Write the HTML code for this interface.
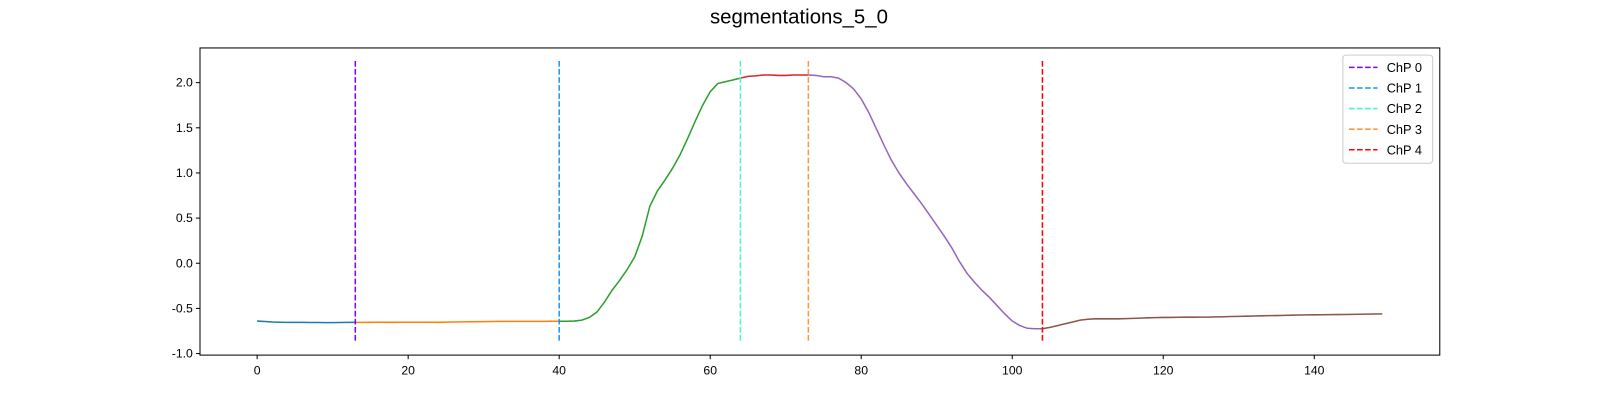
<!DOCTYPE html>
<html><head><meta charset="utf-8"><style>
html,body{margin:0;padding:0;background:#fff;overflow:hidden;width:1600px;height:400px;}
svg{display:block;}
svg text{font-family:"Liberation Sans","DejaVu Sans",sans-serif;}
</style></head><body>
<svg id="chart" width="1600" height="400" viewBox="0 0 1600 400" xmlns="http://www.w3.org/2000/svg">
<rect width="1600" height="400" fill="#fff"/>
<g transform="scale(1.0204)">
<text x="783" y="23" font-size="20" text-anchor="middle">segmentations_5_0</text>
<g id="plot"></g>
<rect x="196" y="47" width="1215" height="301" fill="none" stroke="#000" stroke-width="1"/>
</g>
</svg>
<script>
const xTicks=[0,20,40,60,80,100,120,140];
const yTicks=[-1.0,-0.5,0.0,0.5,1.0,1.5,2.0];
const changePoints=[13,40,64,73,104];
const cpLabels=["ChP 0","ChP 1","ChP 2","ChP 3","ChP 4"];
const cpColors=["#8000ff","#1996f3","#4df3ce","#ff9637","#ff0000"];
const segColors=["#1f77b4","#ff7f0e","#2ca02c","#d62728","#9467bd","#8c564b"];
const series=[-0.64,-0.645,-0.65,-0.653,-0.655,-0.655,-0.655,-0.656,-0.656,-0.657,-0.657,-0.656,-0.655,-0.655,
-0.655,-0.654,-0.653,-0.654,-0.654,-0.653,-0.653,-0.653,-0.653,-0.653,-0.654,-0.652,-0.65,-0.649,-0.648,-0.647,
-0.646,-0.645,-0.643,-0.643,-0.644,-0.643,-0.643,-0.644,-0.643,-0.642,-0.642,-0.642,-0.64,-0.63,-0.60,-0.54,
-0.43,-0.30,-0.19,-0.07,0.07,0.30,0.63,0.80,0.92,1.05,1.20,1.38,1.57,1.75,1.90,1.99,2.01,2.03,2.05,
2.07,2.075,2.085,2.085,2.08,2.08,2.085,2.085,2.085,2.08,2.065,2.065,2.05,2.0,1.93,1.82,1.67,1.49,1.31,1.14,
1.00,0.88,0.77,0.66,0.54,0.42,0.30,0.17,0.02,-0.11,-0.21,-0.30,-0.38,-0.47,-0.56,-0.64,-0.69,-0.72,-0.725,-0.725,
-0.71,-0.69,-0.67,-0.65,-0.63,-0.62,-0.615,-0.615,-0.615,-0.615,-0.613,-0.61,-0.607,-0.604,-0.602,-0.60,-0.60,
-0.598,-0.597,-0.597,-0.596,-0.596,-0.594,-0.592,-0.59,-0.588,-0.586,-0.584,-0.582,-0.58,-0.579,-0.577,-0.575,
-0.573,-0.572,-0.571,-0.57,-0.569,-0.568,-0.567,-0.566,-0.565,-0.563,-0.562,-0.56];
const NS="http://www.w3.org/2000/svg";
const sx=v=>252+v*7.4;
const sy=v=>258-v*88.5;
const g=document.getElementById('plot');
function mk(t,a){const e=document.createElementNS(NS,t);for(const k in a)e.setAttribute(k,a[k]);g.appendChild(e);return e;}
xTicks.forEach(t=>{
 const l=mk('line',{x1:sx(t),x2:sx(t),y1:348,y2:352,stroke:'#000'});
 
 
 const tx=mk('text',{x:sx(t),y:367,'font-size':12,'text-anchor':'middle'});tx.textContent=t;
 
 
});
yTicks.forEach(t=>{
 const l=mk('line',{x1:192,x2:196,y1:sy(t),y2:sy(t),stroke:'#000'});
 
 
 const tx=mk('text',{x:189,y:sy(t)+4,'font-size':12,'text-anchor':'end'});tx.textContent=t.toFixed(1);
 
 
});
const bounds=[0,...changePoints,series.length-1];
for(let s=0;s<bounds.length-1;s++){
 let pts=[];for(let i=bounds[s];i<=bounds[s+1];i++)pts.push(sx(i)+','+sy(series[i]));
 const p=mk('polyline',{points:pts.join(' '),fill:'none',stroke:segColors[s],'stroke-width':1.5});
 
 
}
changePoints.forEach((c,i)=>{
 const l=mk('line',{x1:sx(c),x2:sx(c),y1:sy(2.24),y2:sy(-0.87),stroke:cpColors[i],'stroke-width':1.5,'stroke-dasharray':'5.5,2.4'});
 
 
});
const lg=mk('rect',{x:1316,y:54,width:88,height:106,fill:'#fff',stroke:'#ccc',rx:3});


cpLabels.forEach((lab,i)=>{
 const y=66+i*20.2;
 const l=mk('line',{x1:1322,x2:1350,y1:y,y2:y,stroke:cpColors[i],'stroke-width':1.5,'stroke-dasharray':'5.5,2.4'});
 
 
 const t=mk('text',{x:1359,y:y+4.5,'font-size':12.5});t.textContent=lab;
 
 
});
</script>
</body></html>
